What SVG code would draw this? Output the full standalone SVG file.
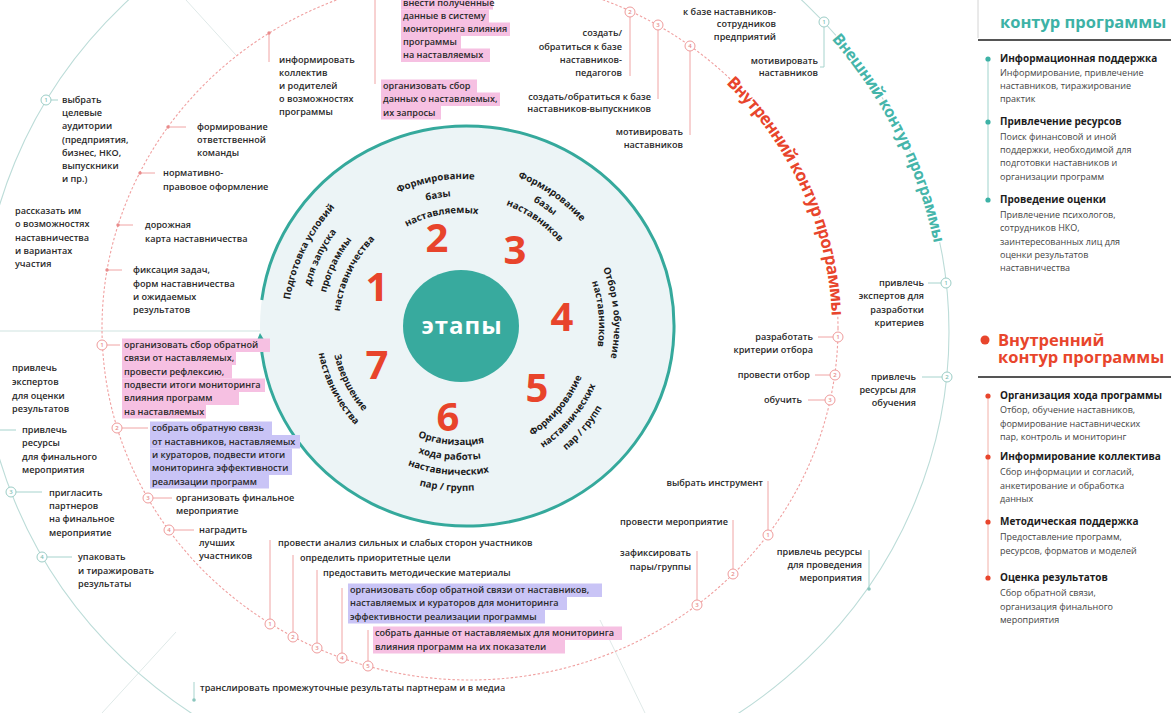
<svg xmlns="http://www.w3.org/2000/svg" width="1171" height="713" viewBox="0 0 1171 713">
<style>
.t{font-family:"Open Sans","Liberation Sans",sans-serif;font-size:9.1px;font-weight:600;fill:#2a2a2a}
.e{text-anchor:end}
.stg{font-family:"Open Sans","Liberation Sans",sans-serif;font-size:9.6px;font-weight:700;fill:#1b1b1b}
.num{font-family:"Open Sans","Liberation Sans",sans-serif;font-size:40px;font-weight:700;fill:#e8442b;text-anchor:middle}
.hp{fill:#f6c0e2}
.hv{fill:#c9c4f6}
.rin{fill:none;stroke:#f0a0a0;stroke-width:1.1;stroke-dasharray:2.5 2}
.rout{fill:none;stroke:#bcdcd8;stroke-width:1.1}
.faint{fill:none;stroke:#dfe9e8;stroke-width:1}
.cr{stroke:#f0a4a4;stroke-width:1;fill:none}
.ct{stroke:#a6d3cd;stroke-width:1;fill:none}
.mr{fill:#fff;stroke:#ef9b9b;stroke-width:1}
.mt{fill:#fff;stroke:#9ccdc6;stroke-width:1}
.mn{font-family:"Open Sans","Liberation Sans",sans-serif;font-size:6px;font-weight:600;text-anchor:middle;fill:#e58a8a}
.mnt{fill:#7fbfb6}
.dr{fill:#e98b8b}
.dt{fill:#8cc6be}
.ring-lbl{font-family:"Open Sans","Liberation Sans",sans-serif;font-weight:700;stroke:#fff;stroke-width:3;paint-order:stroke}
.hdr{font-family:"Open Sans","Liberation Sans",sans-serif;font-size:16.5px;font-weight:700}
.pt{font-family:"Open Sans","Liberation Sans",sans-serif;font-size:10px;font-weight:700;fill:#1c1c1c}
.pb{font-family:"Open Sans","Liberation Sans",sans-serif;font-size:9px;font-weight:400;fill:#444}
</style>
<defs>
<marker id="arr" viewBox="0 0 10 10" refX="3" refY="5" markerWidth="15" markerHeight="13" markerUnits="userSpaceOnUse" orient="auto">
<path d="M0,0 L10,5 L0,10 z" fill="#35a99c"/>
</marker>
<!-- baselines for the curved stage captions -->
<path id="p1a" d="M317.6,422.7 A173,173 0 0 1 448.9,153.4"/>
<path id="p1b" d="M331.7,413.2 A156,156 0 0 1 450.1,170.4"/>
<path id="p1c" d="M345.8,403.7 A139,139 0 0 1 451.3,187.3"/>
<path id="p1d" d="M359.9,394.2 A122,122 0 0 1 452.5,204.3"/>
<path id="p2a" d="M322.9,275.7 A147,147 0 0 1 573.6,231.5"/>
<path id="p2b" d="M338.8,281.5 A130,130 0 0 1 560.6,242.4"/>
<path id="p2c" d="M354.8,287.4 A113,113 0 0 1 547.6,253.4"/>
<path id="p3a" d="M393.8,181.9 A159,159 0 0 1 619.4,339.9"/>
<path id="p3b" d="M400.1,195.5 A144,144 0 0 1 604.5,338.6"/>
<path id="p3c" d="M406.5,209.1 A129,129 0 0 1 589.5,337.2"/>
<path id="p4a" d="M525.7,187.3 A153,153 0 0 1 548.8,451.3"/>
<path id="p4b" d="M519.3,200.9 A138,138 0 0 1 540.2,439.0"/>
<path id="p5a" d="M438.3,455.0 A131,131 0 0 0 584.1,281.2"/>
<path id="p5b" d="M435.5,470.8 A147,147 0 0 0 599.1,275.7"/>
<path id="p5c" d="M432.7,486.5 A163,163 0 0 0 614.2,270.3"/>
<path id="p6a" d="M353.1,376.3 A119,119 0 0 0 558.5,394.3"/>
<path id="p6b" d="M339.6,382.6 A134,134 0 0 0 570.8,402.9"/>
<path id="p6c" d="M326.0,389.0 A149,149 0 0 0 583.1,411.5"/>
<path id="p6d" d="M311.5,395.7 A165,165 0 0 0 596.2,420.6"/>
<path id="p7a" d="M352.0,255.2 A130,130 0 0 0 454.2,455.8"/>
<path id="p7b" d="M339.4,247.0 A145,145 0 0 0 453.4,470.8"/>
<!-- baselines for the ring titles -->
<path id="pin" d="M702.7,63.0 A362,346 0 0 1 832,328"/>
<path id="pout" d="M803,9.6 A478,456 0 0 1 943,332"/>
</defs>

<rect width="1171" height="713" fill="#fff"/>

<!-- rings and sector lines -->
<g id="rings">
<path class="faint" d="M236,55 L186,0"/>
<path class="faint" d="M0,331 L262,331" style="stroke:#cfe3e0"/>
<path class="faint" d="M176,632 L102,713"/>
<path class="faint" d="M600,620 L645,713"/>
<ellipse class="rout" cx="465" cy="332" rx="484" ry="462"/>
<ellipse class="rin" cx="470" cy="328" rx="368" ry="352"/>
<text class="ring-lbl" font-size="17" fill="#e8452c"><textPath href="#pin" startOffset="31" textLength="262" lengthAdjust="spacing">Внутренний контур программы</textPath></text>
<text class="ring-lbl" font-size="16" fill="#45b5aa"><textPath href="#pout" startOffset="41" textLength="231" lengthAdjust="spacing">Внешний контур программы</textPath></text>
</g>

<!-- central stage wheel -->
<g id="stages">
<ellipse cx="467" cy="326" rx="207" ry="200" fill="#ecf4f6"/>
<path d="M261.8,300 A207,200 0 1 1 260.7,342" fill="none" stroke="#35a99c" stroke-width="3" marker-end="url(#arr)"/>
<ellipse cx="461" cy="326" rx="58" ry="56" fill="#38aa9e"/>
<text x="462" y="334" font-family="Open Sans, Liberation Sans, sans-serif" font-size="24" font-weight="700" fill="#fff" text-anchor="middle" letter-spacing="1">этапы</text>
</g>

<g id="stage-1">
<text class="num" x="377" y="301">1</text>
<text class="stg" text-anchor="middle"><textPath href="#p1a" startOffset="50%">Подготовка условий</textPath></text>
<text class="stg" text-anchor="middle"><textPath href="#p1b" startOffset="50%">для запуска</textPath></text>
<text class="stg" text-anchor="middle"><textPath href="#p1c" startOffset="50%">программы</textPath></text>
<text class="stg" text-anchor="middle"><textPath href="#p1d" startOffset="50%">наставничества</textPath></text>
</g>
<g id="stage-2">
<text class="num" x="437" y="252">2</text>
<text class="stg" text-anchor="middle"><textPath href="#p2a" startOffset="50%">Формирование</textPath></text>
<text class="stg" text-anchor="middle"><textPath href="#p2b" startOffset="50%">базы</textPath></text>
<text class="stg" text-anchor="middle"><textPath href="#p2c" startOffset="50%">наставляемых</textPath></text>
</g>
<g id="stage-3">
<text class="num" x="515" y="264">3</text>
<text class="stg" text-anchor="middle"><textPath href="#p3a" startOffset="50%">Формирование</textPath></text>
<text class="stg" text-anchor="middle"><textPath href="#p3b" startOffset="50%">базы</textPath></text>
<text class="stg" text-anchor="middle"><textPath href="#p3c" startOffset="50%">наставников</textPath></text>
</g>
<g id="stage-4">
<text class="num" x="562" y="331">4</text>
<text class="stg" text-anchor="middle"><textPath href="#p4a" startOffset="50%">Отбор и обучение</textPath></text>
<text class="stg" text-anchor="middle"><textPath href="#p4b" startOffset="50%">наставников</textPath></text>
</g>
<g id="stage-5">
<text class="num" x="537" y="402">5</text>
<text class="stg" text-anchor="middle"><textPath href="#p5a" startOffset="50%">Формирование</textPath></text>
<text class="stg" text-anchor="middle"><textPath href="#p5b" startOffset="50%">наставнических</textPath></text>
<text class="stg" text-anchor="middle"><textPath href="#p5c" startOffset="50%">пар / групп</textPath></text>
</g>
<g id="stage-6">
<text class="num" x="448" y="431">6</text>
<text class="stg" text-anchor="middle"><textPath href="#p6a" startOffset="50%">Организация</textPath></text>
<text class="stg" text-anchor="middle"><textPath href="#p6b" startOffset="50%">хода работы</textPath></text>
<text class="stg" text-anchor="middle"><textPath href="#p6c" startOffset="50%">наставнических</textPath></text>
<text class="stg" text-anchor="middle"><textPath href="#p6d" startOffset="50%">пар / групп</textPath></text>
</g>
<g id="stage-7">
<text class="num" x="377" y="379">7</text>
<text class="stg" text-anchor="middle"><textPath href="#p7a" startOffset="50%">Завершение</textPath></text>
<text class="stg" text-anchor="middle"><textPath href="#p7b" startOffset="50%">наставничества</textPath></text>
</g>

<!-- connectors from ring markers to task labels -->
<g id="connectors">
<path class="cr" d="M269,33 V62"/>
<path class="cr" d="M168,127 H186"/>
<path class="cr" d="M140,173 H155"/>
<path class="cr" d="M118,225 H133"/>
<path class="cr" d="M107,270 H122"/>
<path class="ct" d="M51,100 H58"/>
<path class="cr" d="M107,345 H120"/>
<path class="cr" d="M122,428 H148"/>
<path class="cr" d="M153,498 H172"/>
<path class="cr" d="M174,530 H194"/>
<path class="ct" d="M0,430 H16"/>
<path class="ct" d="M16,492 H42"/>
<path class="ct" d="M47,557 H72"/>
<path class="ct" d="M194,682 V699"/>
<path class="cr" d="M270,540 V619"/>
<path class="cr" d="M293,555 V632"/>
<path class="cr" d="M317,570 V643"/>
<path class="cr" d="M342,588 V653"/>
<path class="cr" d="M368,630 V661"/>
<path class="cr" d="M768,481 V530"/>
<path class="cr" d="M733,520 V569"/>
<path class="cr" d="M697,551 V600"/>
<path class="ct" d="M869,550 V588"/>
<path class="cr" d="M818,337 H833"/>
<path class="cr" d="M815,375 H830"/>
<path class="cr" d="M808,400 H825"/>
<path class="ct" d="M928,283 H941"/>
<path class="ct" d="M922,377 H942"/>
<path class="cr" d="M630,17 V76"/>
<path class="cr" d="M658,30 V99"/>
<path class="cr" d="M690,51 V135"/>
<path class="ct" d="M824,27 V67 H820"/>
<path class="cr" d="M375,0 V84"/>
</g>

<!-- stage 1 tasks -->
<g id="s1-inform"><circle class="dr" cx="269" cy="33" r="1.7"/>
<text class="t" x="279" y="63">информировать</text><text class="t" x="279" y="76">коллектив</text><text class="t" x="279" y="89">и родителей</text><text class="t" x="279" y="102">о возможностях</text><text class="t" x="279" y="115">программы</text></g>
<g id="s1-team"><circle class="dr" cx="168" cy="127" r="1.7"/>
<text class="t" x="197" y="130">формирование</text><text class="t" x="197" y="143">ответственной</text><text class="t" x="197" y="156">команды</text></g>
<g id="s1-legal"><circle class="dr" cx="140" cy="173" r="1.7"/>
<text class="t" x="163" y="176">нормативно-</text><text class="t" x="163" y="190">правовое оформление</text></g>
<g id="s1-map"><circle class="dr" cx="118" cy="225" r="1.7"/>
<text class="t" x="145" y="228">дорожная</text><text class="t" x="145" y="242">карта наставничества</text></g>
<g id="s1-goals"><circle class="dr" cx="107" cy="270" r="1.7"/>
<text class="t" x="133" y="273">фиксация задач,</text><text class="t" x="133" y="287">форм наставничества</text><text class="t" x="133" y="300">и ожидаемых</text><text class="t" x="133" y="313">результатов</text></g>

<!-- outer contour, left side -->
<g id="o-audience"><circle class="mt" cx="46" cy="100" r="5"/><text class="mn mnt" x="46" y="102">1</text>
<text class="t" x="62" y="103">выбрать</text><text class="t" x="62" y="116">целевые</text><text class="t" x="62" y="129">аудитории</text><text class="t" x="62" y="143">(предприятия,</text><text class="t" x="62" y="156">бизнес, НКО,</text><text class="t" x="62" y="169">выпускники</text><text class="t" x="62" y="182">и пр.)</text></g>
<g id="o-tell">
<text class="t" x="15" y="214">рассказать им</text><text class="t" x="15" y="227">о возможностях</text><text class="t" x="15" y="241">наставничества</text><text class="t" x="15" y="254">и вариантах</text><text class="t" x="15" y="267">участия</text></g>
<g id="o-experts">
<text class="t" x="12" y="371">привлечь</text><text class="t" x="12" y="385">экспертов</text><text class="t" x="12" y="399">для оценки</text><text class="t" x="12" y="412">результатов</text></g>
<g id="o-resources">
<text class="t" x="22" y="433">привлечь</text><text class="t" x="22" y="446">ресурсы</text><text class="t" x="22" y="460">для финального</text><text class="t" x="22" y="473">мероприятия</text></g>
<g id="o-partners"><circle class="mt" cx="11" cy="492" r="5"/><text class="mn mnt" x="11" y="494">3</text>
<text class="t" x="49" y="496">пригласить</text><text class="t" x="49" y="509">партнеров</text><text class="t" x="49" y="522">на финальное</text><text class="t" x="49" y="536">мероприятие</text></g>
<g id="o-pack"><circle class="mt" cx="42" cy="557" r="5"/><text class="mn mnt" x="42" y="559">4</text>
<text class="t" x="78" y="560">упаковать</text><text class="t" x="78" y="574">и тиражировать</text><text class="t" x="78" y="587">результаты</text></g>
<g id="o-media"><circle class="dt" cx="194" cy="700" r="1.8"/>
<text class="t" x="200" y="691">транслировать промежуточные результаты партнерам и в медиа</text></g>

<!-- stage 7 tasks -->
<g id="s7-1"><circle class="mr" cx="102" cy="345" r="5"/><text class="mn" x="102" y="347">1</text>
<rect class="hp" x="122" y="338.5" width="148" height="13.5"/><rect class="hp" x="122" y="351.5" width="114" height="13.5"/><rect class="hp" x="122" y="365" width="110" height="13.5"/><rect class="hp" x="122" y="378.5" width="143" height="13.5"/><rect class="hp" x="122" y="391.5" width="117" height="13.5"/><rect class="hp" x="122" y="405" width="84" height="13.5"/>
<text class="t" x="124" y="348">организовать сбор обратной</text><text class="t" x="124" y="361">связи от наставляемых,</text><text class="t" x="124" y="375">провести рефлексию,</text><text class="t" x="124" y="388">подвести итоги мониторинга</text><text class="t" x="124" y="401">влияния программ</text><text class="t" x="124" y="415">на наставляемых</text></g>
<g id="s7-2"><circle class="mr" cx="117" cy="428" r="5"/><text class="mn" x="117" y="430">2</text>
<rect class="hv" x="150" y="421.5" width="122" height="13.5"/><rect class="hv" x="150" y="435" width="150" height="13.5"/><rect class="hv" x="150" y="448.5" width="142" height="13.5"/><rect class="hv" x="150" y="461.5" width="142" height="13.5"/><rect class="hv" x="150" y="475" width="119" height="13.5"/>
<text class="t" x="152" y="431">собрать обратную связь</text><text class="t" x="152" y="445">от наставников, наставляемых</text><text class="t" x="152" y="458">и кураторов, подвести итоги</text><text class="t" x="152" y="471">мониторинга эффективности</text><text class="t" x="152" y="485">реализации программ</text></g>
<g id="s7-3"><circle class="mr" cx="148" cy="498" r="5"/><text class="mn" x="148" y="500">3</text>
<text class="t" x="176" y="501">организовать финальное</text><text class="t" x="176" y="514">мероприятие</text></g>
<g id="s7-4"><circle class="mr" cx="169" cy="530" r="5"/><text class="mn" x="169" y="532">4</text>
<text class="t" x="199" y="533">наградить</text><text class="t" x="199" y="546">лучших</text><text class="t" x="199" y="559">участников</text></g>

<!-- stage 6 tasks -->
<g id="s6-1"><circle class="mr" cx="270" cy="624" r="5"/><text class="mn" x="270" y="626">1</text>
<text class="t" x="278" y="546">провести анализ сильных и слабых сторон участников</text></g>
<g id="s6-2"><circle class="mr" cx="293" cy="637" r="5"/><text class="mn" x="293" y="639">2</text>
<text class="t" x="300" y="561">определить приоритетные цели</text></g>
<g id="s6-3"><circle class="mr" cx="317" cy="648" r="5"/><text class="mn" x="317" y="650">3</text>
<text class="t" x="323" y="576">предоставить методические материалы</text></g>
<g id="s6-4"><circle class="mr" cx="342" cy="658" r="5"/><text class="mn" x="342" y="660">4</text>
<rect class="hv" x="348" y="583.5" width="254" height="13.5"/><rect class="hv" x="348" y="596.5" width="219" height="13.5"/><rect class="hv" x="348" y="610" width="197" height="13.5"/>
<text class="t" x="350" y="593">организовать сбор обратной связи от наставников,</text><text class="t" x="350" y="606">наставляемых и кураторов для мониторинга</text><text class="t" x="350" y="620">эффективности реализации программы</text></g>
<g id="s6-5"><circle class="mr" cx="368" cy="666" r="5"/><text class="mn" x="368" y="668">5</text>
<rect class="hp" x="373" y="626.5" width="249" height="13.5"/><rect class="hp" x="373" y="640" width="192" height="13.5"/>
<text class="t" x="375" y="636">собрать данные от наставляемых для мониторинга</text><text class="t" x="375" y="650">влияния программ на их показатели</text></g>

<!-- stage 5 tasks -->
<g id="s5-1"><circle class="mr" cx="768" cy="535" r="5"/><text class="mn" x="768" y="537">1</text>
<text class="t e" x="763" y="486">выбрать инструмент</text></g>
<g id="s5-2"><circle class="mr" cx="733" cy="574" r="5"/><text class="mn" x="733" y="576">2</text>
<text class="t e" x="728" y="525">провести мероприятие</text></g>
<g id="s5-3"><circle class="mr" cx="697" cy="605" r="5"/><text class="mn" x="697" y="607">3</text>
<text class="t e" x="691" y="556">зафиксировать</text><text class="t e" x="691" y="570">пары/группы</text></g>
<g id="o-event-resources"><circle class="dt" cx="869" cy="589" r="1.8"/>
<text class="t e" x="862" y="555">привлечь ресурсы</text><text class="t e" x="862" y="568">для проведения</text><text class="t e" x="862" y="581">мероприятия</text></g>

<!-- stage 4 tasks -->
<g id="s4-1"><circle class="mr" cx="838" cy="337" r="5"/><text class="mn" x="838" y="339">1</text>
<text class="t e" x="813" y="340">разработать</text><text class="t e" x="813" y="353">критерии отбора</text></g>
<g id="s4-2"><circle class="mr" cx="835" cy="375" r="5"/><text class="mn" x="835" y="377">2</text>
<text class="t e" x="810" y="378">провести отбор</text></g>
<g id="s4-3"><circle class="mr" cx="830" cy="400" r="5"/><text class="mn" x="830" y="402">3</text>
<text class="t e" x="802" y="403">обучить</text></g>
<g id="o-criteria"><circle class="mt" cx="946" cy="283" r="5"/><text class="mn mnt" x="946" y="285">1</text>
<text class="t e" x="924" y="286">привлечь</text><text class="t e" x="924" y="299">экспертов для</text><text class="t e" x="924" y="313">разработки</text><text class="t e" x="924" y="326">критериев</text></g>
<g id="o-training"><circle class="mt" cx="947" cy="377" r="5"/><text class="mn mnt" x="947" y="379">2</text>
<text class="t e" x="916" y="380">привлечь</text><text class="t e" x="916" y="393">ресурсы для</text><text class="t e" x="916" y="406">обучения</text></g>

<!-- stage 3 tasks -->
<g id="s3-staff">
<text class="t e" x="776" y="15">к базе наставников-</text><text class="t e" x="776" y="27">сотрудников</text><text class="t e" x="776" y="40">предприятий</text></g>
<g id="s3-teachers"><circle class="mr" cx="630" cy="12" r="5"/><text class="mn" x="630" y="14">2</text>
<text class="t e" x="622" y="36">создать/</text><text class="t e" x="622" y="50">обратиться к базе</text><text class="t e" x="622" y="63">наставников-</text><text class="t e" x="622" y="76">педагогов</text></g>
<g id="s3-alumni"><circle class="mr" cx="658" cy="25" r="5"/><text class="mn" x="658" y="27">3</text>
<text class="t e" x="651" y="100">создать/обратиться к базе</text><text class="t e" x="651" y="112">наставников-выпускников</text></g>
<g id="s3-motivate"><circle class="mr" cx="690" cy="46" r="5"/><text class="mn" x="690" y="48">4</text>
<text class="t e" x="683" y="135">мотивировать</text><text class="t e" x="683" y="148">наставников</text></g>
<g id="o-motivate"><circle class="mt" cx="824" cy="22" r="5"/><text class="mn mnt" x="824" y="24">1</text>
<text class="t e" x="818" y="64">мотивировать</text><text class="t e" x="818" y="76">наставников</text></g>

<!-- stage 2 tasks -->
<g id="s2-data">
<rect class="hp" x="401" y="-3.5" width="92" height="13"/><rect class="hp" x="401" y="9.5" width="88" height="13.5"/><rect class="hp" x="401" y="22.5" width="109" height="13.5"/><rect class="hp" x="401" y="35.5" width="60" height="13.5"/><rect class="hp" x="401" y="48.5" width="89" height="13.5"/>
<text class="t" x="403" y="6">внести полученные</text><text class="t" x="403" y="19">данные в систему</text><text class="t" x="403" y="32">мониторинга влияния</text><text class="t" x="403" y="45">программы</text><text class="t" x="403" y="58">на наставляемых</text></g>
<g id="s2-requests">
<rect class="hp" x="381" y="79.5" width="96" height="13.5"/><rect class="hp" x="381" y="92.5" width="119" height="13.5"/><rect class="hp" x="381" y="106" width="60" height="13.5"/>
<text class="t" x="383" y="89">организовать сбор</text><text class="t" x="383" y="102">данных о наставляемых,</text><text class="t" x="383" y="116">их запросы</text></g>

<!-- legend: outer contour -->
<g id="legend-outer">
<path d="M978,0 V38" stroke="#d4d4d4" stroke-width="1"/>
<text class="hdr" x="1000" y="28" fill="#3db2a6">контур программы</text>
<path d="M978,40 H1171" stroke="#555" stroke-width="2"/>
<path d="M988,59 V200" stroke="#9fd3cc" stroke-width="1"/>
<circle cx="988" cy="59" r="2.6" fill="#3db2a6"/><circle cx="988" cy="122" r="2.6" fill="#3db2a6"/><circle cx="988" cy="200" r="2.6" fill="#3db2a6"/>
<text class="pt" x="1000" y="62">Информационная поддержка</text>
<text class="pb" x="1000" y="76">Информирование, привлечение</text><text class="pb" x="1000" y="89">наставников, тиражирование</text><text class="pb" x="1000" y="102">практик</text>
<text class="pt" x="1000" y="125">Привлечение ресурсов</text>
<text class="pb" x="1000" y="140">Поиск финансовой и иной</text><text class="pb" x="1000" y="153">поддержки, необходимой для</text><text class="pb" x="1000" y="166">подготовки наставников и</text><text class="pb" x="1000" y="180">организации программ</text>
<text class="pt" x="1000" y="203">Проведение оценки</text>
<text class="pb" x="1000" y="218">Привлечение психологов,</text><text class="pb" x="1000" y="231">сотрудников НКО,</text><text class="pb" x="1000" y="245">заинтересованных лиц для</text><text class="pb" x="1000" y="258">оценки результатов</text><text class="pb" x="1000" y="271">наставничества</text>
</g>

<!-- legend: inner contour -->
<g id="legend-inner">
<circle cx="985" cy="340" r="4.5" fill="#e8452c"/>
<text class="hdr" x="998" y="346" fill="#e8452c">Внутренний</text>
<text class="hdr" x="998" y="363" fill="#e8452c">контур программы</text>
<path d="M978,377 H1171" stroke="#555" stroke-width="2"/>
<path d="M988,396 V578" stroke="#f2b0a8" stroke-width="1"/>
<circle cx="988" cy="396" r="2.6" fill="#e8452c"/><circle cx="988" cy="457" r="2.6" fill="#e8452c"/><circle cx="988" cy="522" r="2.6" fill="#e8452c"/><circle cx="988" cy="578" r="2.6" fill="#e8452c"/>
<text class="pt" x="1000" y="399">Организация хода программы</text>
<text class="pb" x="1000" y="413">Отбор, обучение наставников,</text><text class="pb" x="1000" y="427">формирование наставнических</text><text class="pb" x="1000" y="440">пар, контроль и мониторинг</text>
<text class="pt" x="1000" y="460">Информирование коллектива</text>
<text class="pb" x="1000" y="475">Сбор информации и согласий,</text><text class="pb" x="1000" y="489">анкетирование и обработка</text><text class="pb" x="1000" y="502">данных</text>
<text class="pt" x="1000" y="525">Методическая поддержка</text>
<text class="pb" x="1000" y="540">Предоставление программ,</text><text class="pb" x="1000" y="554">ресурсов, форматов и моделей</text>
<text class="pt" x="1000" y="581">Оценка результатов</text>
<text class="pb" x="1000" y="596">Сбор обратной связи,</text><text class="pb" x="1000" y="610">организация финального</text><text class="pb" x="1000" y="623">мероприятия</text>
</g>
</svg>
